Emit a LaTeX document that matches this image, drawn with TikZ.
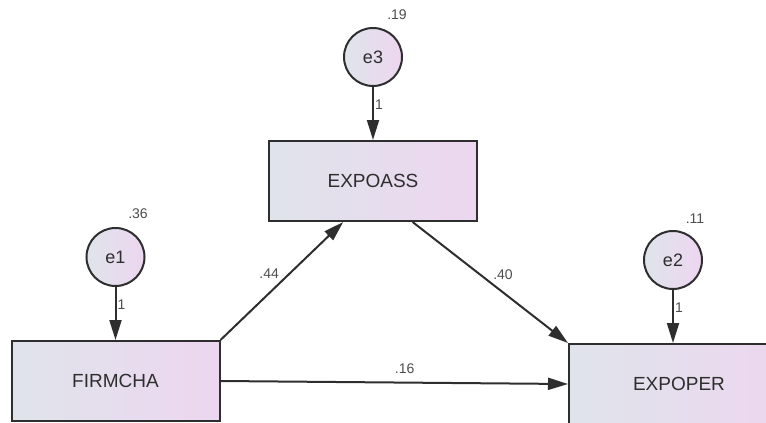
\documentclass[tikz,border=0pt]{standalone}
\usepackage{fontspec}
\setmainfont{Liberation Sans}
\usetikzlibrary{arrows.meta, positioning}
\definecolor{fillleft}{HTML}{DFE4EB}
\definecolor{fillright}{HTML}{EDD6F0}
\definecolor{inkgray}{HTML}{2E2E2E}
\tikzset{
  observed/.style={rectangle, minimum width=208pt, minimum height=80pt, draw=inkgray, line width=2pt, left color=fillleft, right color=fillright, text=inkgray, font=\fontsize{19}{21}\selectfont},
  errvar/.style={circle, minimum size=58pt, inner sep=0pt, draw=inkgray, line width=2pt, left color=fillleft, right color=fillright, text=inkgray, font=\fontsize{18}{20}\selectfont},
  coef/.style={text=inkgray!85, font=\fontsize{14}{16}\selectfont, inner sep=2pt},
  regarrow/.style={line width=2pt, draw=inkgray, -{Triangle[length=20pt,width=12pt]}}
}
\begin{document}
\begin{tikzpicture}[x=1pt, y=-1pt, node distance=53pt]
  \useasboundingbox (0,0) rectangle (766,423);
  \clip (0,0) rectangle (766,423);

  \node (firmcha) [observed] at (115.5,381) {FIRMCHA};
  \node (expoass) [observed] at (373,181) {EXPOASS};
  \node (expoper) [observed, minimum width=220pt] at (679,384) {EXPOPER};
  \node (e1) [errvar, above=of firmcha] {e1};
  \node (e3) [errvar, above=of expoass] {e3};
  \node (e2) [errvar] at (673,260) {e2};

  \node (v1) [coef] at (138,214) {.36};
  \node (v3) [coef] at (397,15) {.19};
  \node (v2) [coef] at (695,219) {.11};

  \draw [regarrow] (e1) -- node[coef, right, pos=0.33, xshift=-1pt] {1} (firmcha);
  \draw [regarrow] (e3) -- node[coef, right, pos=0.33, xshift=-1pt] {1} (expoass);
  \draw [regarrow] (e2) -- node[coef, right, pos=0.33, xshift=-1pt] {1} (e2 |- expoper.north);
  \draw [regarrow] (firmcha.north east) -- node[coef, above left, pos=0.5] {.44} (expoass.234);
  \draw [regarrow] (expoass.314) -- node[coef, above right, pos=0.5] {.40} (expoper.north west);
  \draw [regarrow] (firmcha.east) -- node[coef, above=6pt, pos=0.53] {.16} (expoper.west);

\end{tikzpicture}
\end{document}
